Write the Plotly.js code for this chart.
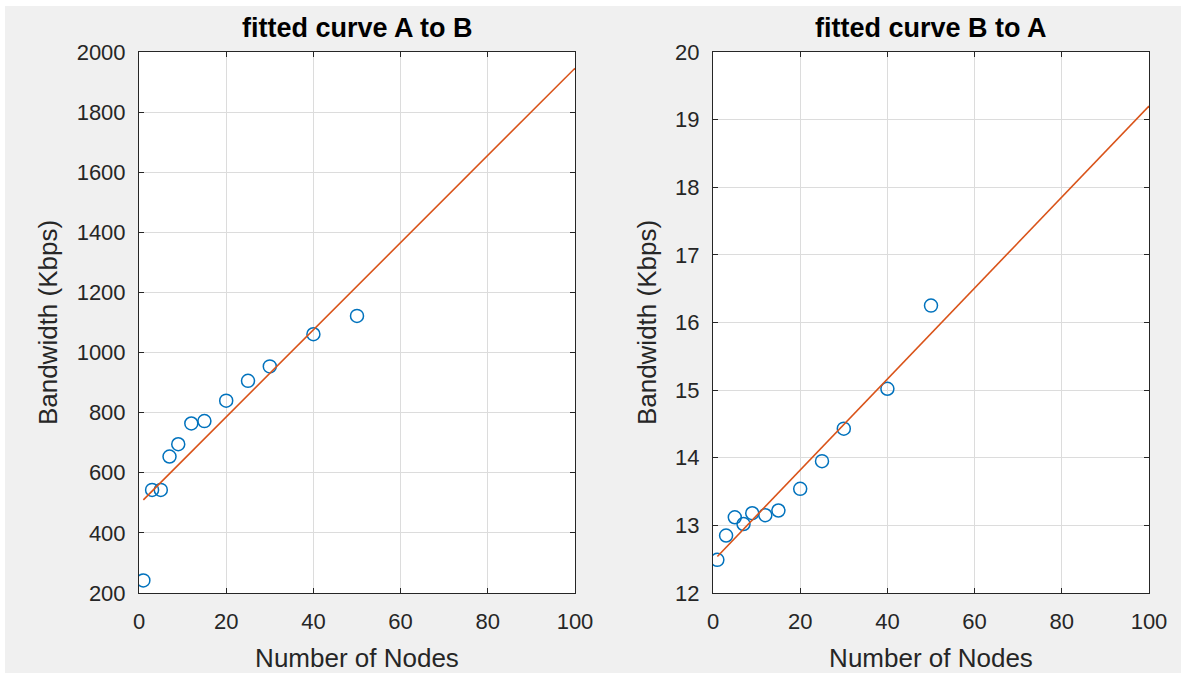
<!DOCTYPE html>
<html>
<head>
<meta charset="utf-8">
<script src="https://cdn.plot.ly/plotly-3.0.1.min.js"></script>
<style>
  html, body { margin: 0; padding: 0; background: #ffffff; }
  #chart { position: absolute; left: 5px; top: 6px; width: 1176px; height: 667px; }
</style>
</head>
<body>
<div id="chart"></div>
<script>
// Data
var nodes = [1, 3, 5, 7, 9, 12, 15, 20, 25, 30, 40, 50];
var bwAtoB = [242, 543, 543, 654, 695, 764, 772, 840, 906, 954, 1061, 1122];
var bwBtoA = [12.49, 12.85, 13.12, 13.02, 13.18, 13.15, 13.22, 13.54, 13.95, 14.43, 15.02, 16.25];
var fitX = [1, 100];
var fitAtoB = [510, 1946];
var fitBtoA = [12.54, 19.2];
var titles = ['fitted curve A to B', 'fitted curve B to A'];
var xTicks = [0, 20, 40, 60, 80, 100];
var yTicksA = [200, 400, 600, 800, 1000, 1200, 1400, 1600, 1800, 2000];
var yTicksB = [12, 13, 14, 15, 16, 17, 18, 19, 20];

var FONT = 'Liberation Sans, Arial, Helvetica, sans-serif';
var TXT = '#262626';
var BLUE = '#0072BD';
var ORANGE = '#D95319';

function scatter(x, y, xa, ya) {
  return {
    x: x, y: y, xaxis: xa, yaxis: ya, type: 'scatter', mode: 'markers',
    marker: { symbol: 'circle-open', size: 13, color: BLUE, line: { width: 1.5, color: BLUE } },
    showlegend: false, hoverinfo: 'x+y'
  };
}
function fit(x, y, xa, ya) {
  return {
    x: x, y: y, xaxis: xa, yaxis: ya, type: 'scatter', mode: 'lines',
    line: { color: ORANGE, width: 1.6 }, showlegend: false, hoverinfo: 'x+y'
  };
}

var traces = [
  scatter(nodes, bwAtoB, 'x', 'y'),
  fit(fitX, fitAtoB, 'x', 'y'),
  scatter(nodes, bwBtoA, 'x2', 'y2'),
  fit(fitX, fitBtoA, 'x2', 'y2')
];

function xAxis(domain, anchor) {
  return {
    domain: domain, anchor: anchor, range: [0, 100], tickvals: xTicks,
    ticks: 'inside', ticklen: 5, tickcolor: TXT, tickwidth: 1,
    showline: true, linecolor: TXT, linewidth: 1, mirror: 'ticks',
    showgrid: true, gridcolor: '#dcdcdc', gridwidth: 1, zeroline: false,
    tickfont: { family: FONT, size: 22, color: TXT }, ticklabelstandoff: 9,
    title: { text: 'Number of Nodes', font: { family: FONT, size: 26, color: TXT }, standoff: 15 }
  };
}
function yAxis(domain, anchor, range, ticks) {
  return {
    domain: domain, anchor: anchor, range: range, tickvals: ticks,
    ticks: 'inside', ticklen: 5, tickcolor: TXT, tickwidth: 1,
    showline: true, linecolor: TXT, linewidth: 1, mirror: 'ticks',
    showgrid: true, gridcolor: '#dcdcdc', gridwidth: 1, zeroline: false,
    tickfont: { family: FONT, size: 22, color: TXT }, ticklabelstandoff: 8,
    title: { text: 'Bandwidth (Kbps)', font: { family: FONT, size: 26, color: TXT }, standoff: 11 }
  };
}

var d1 = [0, 436 / 1010];
var d2 = [574 / 1010, 1];

var layout = {
  width: 1176, height: 667,
  margin: { l: 134, r: 32, t: 46, b: 80 },
  paper_bgcolor: '#f0f0f0', plot_bgcolor: '#ffffff',
  font: { family: FONT, color: TXT },
  xaxis: xAxis(d1, 'y'),
  yaxis: yAxis([0, 1], 'x', [200, 2000], yTicksA),
  xaxis2: xAxis(d2, 'y2'),
  yaxis2: yAxis([0, 1], 'x2', [12, 20], yTicksB),
  annotations: [
    { text: '<b>' + titles[0] + '</b>', xref: 'paper', yref: 'paper', x: (d1[0] + d1[1]) / 2, y: 1,
      xanchor: 'center', yanchor: 'bottom', yshift: 7, showarrow: false,
      font: { family: FONT, size: 27, color: '#000000' } },
    { text: '<b>' + titles[1] + '</b>', xref: 'paper', yref: 'paper', x: (d2[0] + d2[1]) / 2, y: 1,
      xanchor: 'center', yanchor: 'bottom', yshift: 7, showarrow: false,
      font: { family: FONT, size: 27, color: '#000000' } }
  ]
};

Plotly.newPlot('chart', traces, layout, { displayModeBar: false, staticPlot: false });
</script>
</body>
</html>
